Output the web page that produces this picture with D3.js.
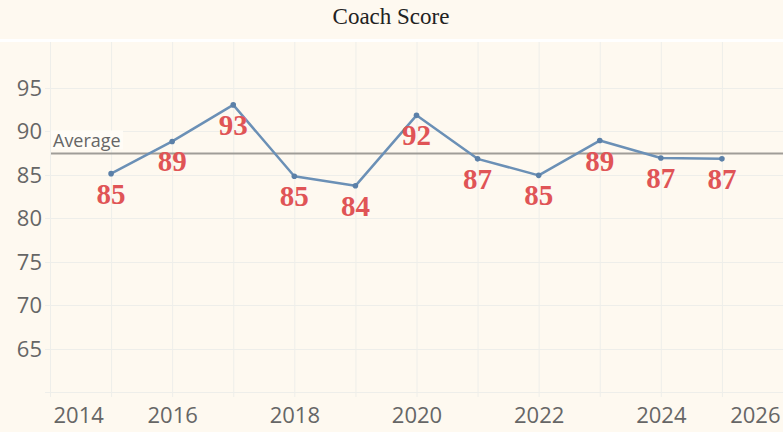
<!DOCTYPE html>
<html>
<head>
<meta charset="utf-8">
<script src="https://cdn.jsdelivr.net/npm/d3@7"></script>
<style>
  html, body { margin: 0; padding: 0; background: #fef9f0; }
  svg { display: block; }
  .tick text { fill: #666; font-family: "Open Sans", sans-serif; }
</style>
</head>
<body>
<svg id="chart" width="783" height="432"></svg>
<script>
// Coach score per season
const years = [2015, 2016, 2017, 2018, 2019, 2020, 2021, 2022, 2023, 2024, 2025];
const scores = [85.1, 88.8, 93.0, 84.8, 83.7, 91.8, 86.8, 84.9, 88.9, 86.9, 86.8];
const yTicks = [65, 70, 75, 80, 85, 90, 95];
const xTickLabels = [2014, 2016, 2018, 2020, 2022, 2024, 2026];
const gridYears = d3.range(2014, 2027);

const W = 783, H = 432;
const margin = { top: 42, left: 50, bottom: 392 };

const svg = d3.select('#chart');

// background bands
svg.append('rect').attr('width', W).attr('height', H).attr('fill', '#fef9f0');
svg.append('rect').attr('y', 39).attr('width', W).attr('height', 3).attr('fill', '#ffffff');

// title
svg.append('text')
  .attr('x', 391)
  .attr('y', 24)
  .attr('text-anchor', 'middle')
  .attr('font-family', '"Liberation Serif", "Times New Roman", serif')
  .attr('font-size', 23)
  .attr('fill', '#222')
  .text('Coach Score');

const x = d3.scaleLinear().domain([2014, 2026]).range([margin.left, W]);
const y = d3.scaleLinear().domain([60, 100]).range([margin.bottom, 44]);

// vertical gridlines with small ticks below the plot
svg.append('g')
  .selectAll('line')
  .data(gridYears)
  .join('line')
  .attr('x1', (d) => x(d) + 0.5)
  .attr('x2', (d) => x(d) + 0.5)
  .attr('y1', margin.top)
  .attr('y2', margin.bottom + 5)
  .attr('stroke', '#eeeeea')
  .attr('stroke-width', 1);

// horizontal gridlines
svg.append('g')
  .selectAll('line')
  .data([60].concat(yTicks))
  .join('line')
  .attr('x1', 45)
  .attr('x2', W)
  .attr('y1', (d) => Math.round(y(d)) + 0.5)
  .attr('y2', (d) => Math.round(y(d)) + 0.5)
  .attr('stroke', '#eeeeea')
  .attr('stroke-width', 1);

// y axis labels
const yAxis = d3.axisLeft(y).tickValues(yTicks).tickSize(0).tickPadding(8);
const gy = svg.append('g')
  .attr('transform', `translate(${margin.left},0)`)
  .call(yAxis);
gy.select('.domain').remove();
gy.selectAll('.tick text').attr('font-size', 22).attr('dy', '0.35em');

// x axis labels
const xAxis = d3.axisBottom(x).tickValues(xTickLabels).tickFormat(d3.format('d')).tickSize(0).tickPadding(15);
const gx = svg.append('g')
  .attr('transform', `translate(0,${margin.bottom})`)
  .call(xAxis);
gx.select('.domain').remove();
gx.selectAll('.tick text')
  .attr('font-size', 22)
  .attr('text-anchor', (d) => (d === 2014 ? 'start' : d === 2026 ? 'end' : 'middle'))
  .attr('dx', (d) => (d === 2014 ? 3 : d === 2026 ? -3 : 0));

// average reference line
const avg = d3.mean(scores);
svg.append('line')
  .attr('x1', margin.left + 1)
  .attr('x2', W)
  .attr('y1', y(avg))
  .attr('y2', y(avg))
  .attr('stroke', '#a09d98')
  .attr('stroke-width', 2);

const avgLabel = svg.append('g');
avgLabel.append('rect')
  .attr('x', 51)
  .attr('y', y(avg) - 23)
  .attr('width', 72)
  .attr('height', 19)
  .attr('fill', '#fffcf6');
avgLabel.append('text')
  .attr('x', 53)
  .attr('y', y(avg) - 7)
  .attr('font-family', '"Open Sans", sans-serif')
  .attr('font-size', 18)
  .attr('fill', '#666')
  .text('Average');

// score line
const line = d3.line()
  .x((d, i) => x(years[i]))
  .y((d) => y(d));

svg.append('path')
  .datum(scores)
  .attr('d', line)
  .attr('fill', 'none')
  .attr('stroke', '#6b90b6')
  .attr('stroke-width', 2.5)
  .attr('stroke-linejoin', 'round');

svg.append('g')
  .selectAll('circle')
  .data(scores)
  .join('circle')
  .attr('cx', (d, i) => x(years[i]))
  .attr('cy', (d) => y(d))
  .attr('r', 2.8)
  .attr('fill', '#5b80a8');

// value labels
svg.append('g')
  .selectAll('text')
  .data(scores)
  .join('text')
  .attr('x', (d, i) => x(years[i]))
  .attr('y', (d) => y(d) + 30)
  .attr('text-anchor', 'middle')
  .attr('font-family', '"Liberation Serif", "Times New Roman", serif')
  .attr('font-weight', 'bold')
  .attr('font-size', 29)
  .attr('fill', '#e05456')
  .text((d) => Math.round(d));
</script>
</body>
</html>
